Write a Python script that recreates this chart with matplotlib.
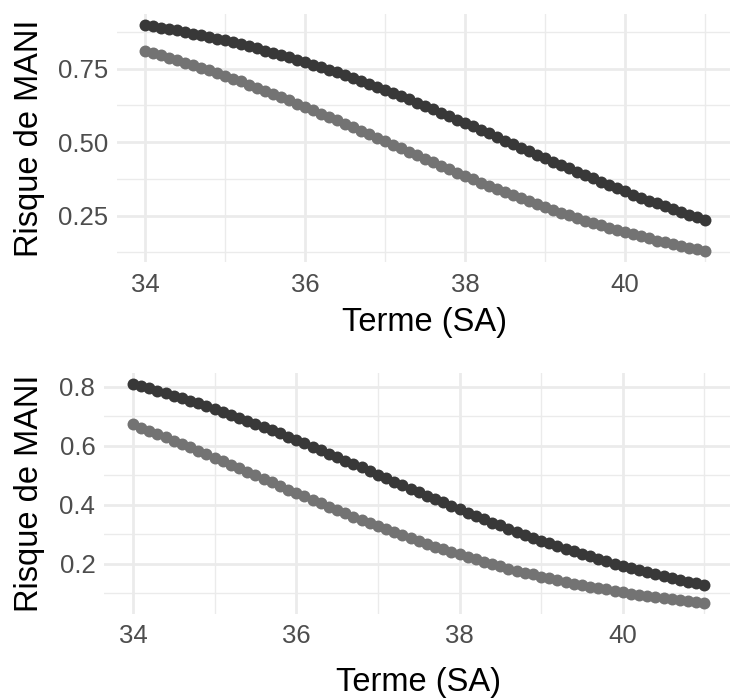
import matplotlib
matplotlib.use("Agg")
import matplotlib.pyplot as plt
from matplotlib.ticker import MultipleLocator

plt.rcParams['font.family'] = ['Liberation Sans', 'DejaVu Sans']

# terme en semaines d'amenorrhee
terme = [34.0, 34.1, 34.2, 34.3, 34.4, 34.5, 34.6, 34.7, 34.8, 34.9,
         35.0, 35.1, 35.2, 35.3, 35.4, 35.5, 35.6, 35.7, 35.8, 35.9,
         36.0, 36.1, 36.2, 36.3, 36.4, 36.5, 36.6, 36.7, 36.8, 36.9,
         37.0, 37.1, 37.2, 37.3, 37.4, 37.5, 37.6, 37.7, 37.8, 37.9,
         38.0, 38.1, 38.2, 38.3, 38.4, 38.5, 38.6, 38.7, 38.8, 38.9,
         39.0, 39.1, 39.2, 39.3, 39.4, 39.5, 39.6, 39.7, 39.8, 39.9,
         40.0, 40.1, 40.2, 40.3, 40.4, 40.5, 40.6, 40.7, 40.8, 40.9,
         41.0]

# graphique du haut
haut_fonce = [0.898, 0.894, 0.889, 0.884, 0.880, 0.874, 0.869, 0.863, 0.858, 0.852,
              0.846, 0.839, 0.833, 0.826, 0.819, 0.811, 0.804, 0.796, 0.788, 0.780,
              0.772, 0.763, 0.755, 0.746, 0.737, 0.727, 0.717, 0.708, 0.698, 0.687,
              0.677, 0.666, 0.656, 0.645, 0.634, 0.622, 0.611, 0.600, 0.588, 0.576,
              0.565, 0.553, 0.541, 0.529, 0.517, 0.505, 0.493, 0.481, 0.469, 0.457,
              0.445, 0.433, 0.422, 0.410, 0.398, 0.387, 0.376, 0.365, 0.353, 0.343,
              0.332, 0.321, 0.311, 0.301, 0.291, 0.281, 0.271, 0.262, 0.253, 0.244,
              0.235]
haut_clair = [0.810, 0.803, 0.795, 0.787, 0.779, 0.770, 0.762, 0.753, 0.744, 0.735,
              0.725, 0.715, 0.706, 0.695, 0.685, 0.675, 0.664, 0.653, 0.642, 0.631,
              0.620, 0.609, 0.597, 0.586, 0.574, 0.562, 0.550, 0.538, 0.527, 0.515,
              0.502, 0.491, 0.479, 0.467, 0.455, 0.443, 0.431, 0.419, 0.408, 0.396,
              0.385, 0.373, 0.362, 0.351, 0.340, 0.330, 0.319, 0.309, 0.299, 0.289,
              0.279, 0.269, 0.260, 0.251, 0.242, 0.233, 0.225, 0.217, 0.209, 0.201,
              0.193, 0.186, 0.179, 0.172, 0.165, 0.159, 0.152, 0.146, 0.140, 0.135,
              0.129]

# graphique du bas
bas_fonce = [0.810, 0.803, 0.795, 0.787, 0.779, 0.770, 0.762, 0.753, 0.744, 0.735,
             0.725, 0.715, 0.706, 0.695, 0.685, 0.675, 0.664, 0.653, 0.642, 0.631,
             0.620, 0.609, 0.597, 0.586, 0.574, 0.562, 0.550, 0.538, 0.527, 0.515,
             0.502, 0.491, 0.479, 0.467, 0.455, 0.443, 0.431, 0.419, 0.408, 0.396,
             0.385, 0.373, 0.362, 0.351, 0.340, 0.330, 0.319, 0.309, 0.299, 0.289,
             0.279, 0.269, 0.260, 0.251, 0.242, 0.233, 0.225, 0.217, 0.209, 0.201,
             0.193, 0.186, 0.179, 0.172, 0.165, 0.159, 0.152, 0.146, 0.140, 0.135,
             0.129]
bas_clair = [0.673, 0.662, 0.651, 0.640, 0.629, 0.618, 0.606, 0.595, 0.583, 0.571,
             0.560, 0.548, 0.536, 0.524, 0.512, 0.500, 0.488, 0.476, 0.464, 0.452,
             0.440, 0.429, 0.417, 0.405, 0.394, 0.382, 0.371, 0.360, 0.349, 0.338,
             0.327, 0.317, 0.307, 0.297, 0.287, 0.277, 0.267, 0.258, 0.249, 0.240,
             0.232, 0.223, 0.215, 0.207, 0.199, 0.192, 0.184, 0.177, 0.170, 0.164,
             0.157, 0.151, 0.145, 0.139, 0.133, 0.128, 0.123, 0.118, 0.113, 0.108,
             0.104, 0.099, 0.095, 0.091, 0.087, 0.083, 0.080, 0.076, 0.073, 0.070,
             0.067]

x_ticks = [34, 36, 38, 40]
y_ticks_haut = [0.25, 0.50, 0.75]
y_labels_haut = ["0.25", "0.50", "0.75"]
y_ticks_bas = [0.2, 0.4, 0.6, 0.8]
y_labels_bas = ["0.2", "0.4", "0.6", "0.8"]

W, H = 730, 699
fig = plt.figure(figsize=(W / 100, H / 100), dpi=100)


def axes_px(left, top, right, bottom):
    return fig.add_axes([left / W, 1 - bottom / H, (right - left) / W, (bottom - top) / H])


def panneau(ax, fonce, clair, yt, yl, ylminor, xlab_y, ylab_x):
    ax.scatter(terme, fonce, s=74, color='#383838', linewidths=0, zorder=3)
    ax.scatter(terme, clair, s=74, color='#737373', linewidths=0, zorder=3)
    ax.margins(0.05)
    for s in ax.spines.values():
        s.set_visible(False)
    ax.set_xticks(x_ticks)
    ax.set_xticklabels([str(t) for t in x_ticks])
    ax.set_yticks(yt)
    ax.set_yticklabels(yl)
    ax.xaxis.set_minor_locator(MultipleLocator(1))
    ax.yaxis.set_minor_locator(MultipleLocator(ylminor))
    ax.grid(which='major', color='#EBEBEB', lw=2.0)
    ax.grid(which='minor', color='#EBEBEB', lw=1.0)
    ax.set_axisbelow(True)
    ax.tick_params(which='both', length=0, labelsize=18.5, labelcolor='#4D4D4D')
    ax.tick_params(axis='x', pad=7.5)
    ax.tick_params(axis='y', pad=6.5)
    ax.set_xlabel("Terme (SA)", fontsize=23.5, va='center')
    ax.set_ylabel("Risque de MANI", fontsize=23.5, va='center')
    ax.xaxis.set_label_coords(0.5, xlab_y)
    ax.yaxis.set_label_coords(ylab_x, 0.5)


ax1 = axes_px(117, 13.7, 733, 262.4)
panneau(ax1, haut_fonce, haut_clair, y_ticks_haut, y_labels_haut, 0.125,
        -(322 - 262.4) / (262.4 - 13.7), -(117 - 30) / (733 - 117))

ax2 = axes_px(104.4, 373, 733, 614)
panneau(ax2, bas_fonce, bas_clair, y_ticks_bas, y_labels_bas, 0.1,
        -(683 - 614) / (614 - 373), -(104.4 - 30) / (733 - 104.4))

fig.savefig("out.png", dpi=100)
